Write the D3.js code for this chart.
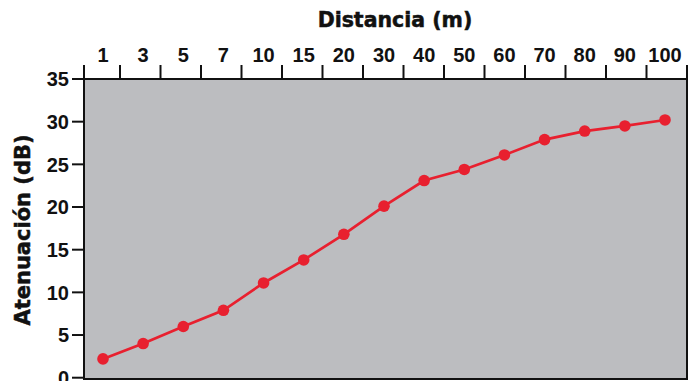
<!DOCTYPE html>
<html><head><meta charset="utf-8">
<script src="https://cdn.jsdelivr.net/npm/d3@7"></script>
<style>body{margin:0;background:#fff}svg{display:block}</style>
</head><body>
<svg id="c" width="693" height="381"></svg>
<script>
const categories = ["1","3","5","7","10","15","20","30","40","50","60","70","80","90","100"];
const values = [2.2, 4.0, 6.0, 7.9, 11.1, 13.8, 16.8, 20.1, 23.1, 24.4, 26.1, 27.9, 28.9, 29.5, 30.2];
const yTicks = [0, 5, 10, 15, 20, 25, 30, 35];
const xTitle = "Distancia (m)";
const yTitle = "Atenuación (dB)";

const svg = d3.select("#c");
const plot = {left: 84, right: 687, top: 79, bottom: 379};
const x = d3.scalePoint().domain(categories).range([103, 665]);
const xb = d3.scaleBand().domain(categories).range([79.5, 687]);
const y = d3.scaleLinear().domain([0, 35]).range([377.7, 79]);
const numFont = "'Liberation Sans Narrow', 'Liberation Sans', Arial, sans-serif";
const titleFont = "'DejaVu Sans', sans-serif";

svg.append("rect").attr("x", plot.left).attr("y", plot.top)
  .attr("width", plot.right - plot.left).attr("height", plot.bottom - plot.top)
  .attr("fill", "#bcbdc0").attr("stroke", "#111").attr("stroke-width", 2);

// top axis ticks (between categories)
svg.append("g").selectAll("line").data(categories).join("line")
  .attr("x1", d => xb(d) + xb.bandwidth()).attr("x2", d => xb(d) + xb.bandwidth())
  .attr("y1", 65).attr("y2", plot.top)
  .attr("stroke", "#111").attr("stroke-width", 2);
svg.append("line").attr("x1", plot.left).attr("x2", plot.left).attr("y1", 65).attr("y2", plot.top)
  .attr("stroke", "#111").attr("stroke-width", 2);

svg.append("g").selectAll("text").data(categories).join("text")
  .attr("x", d => x(d)).attr("y", 62).attr("text-anchor", "middle")
  .attr("font-family", numFont).attr("font-weight", "bold").attr("font-size", 20)
  .attr("fill", "#111").text(d => d);

// left axis
svg.append("g").selectAll("line").data(yTicks).join("line")
  .attr("x1", 72).attr("x2", plot.left).attr("y1", d => y(d)).attr("y2", d => y(d))
  .attr("stroke", "#111").attr("stroke-width", 2);
svg.append("g").selectAll("text").data(yTicks).join("text")
  .attr("x", 69).attr("y", d => y(d)).attr("dy", "0.36em").attr("text-anchor", "end")
  .attr("font-family", numFont).attr("font-weight", "bold").attr("font-size", 20)
  .attr("fill", "#111").text(d => d);

// titles
svg.append("text").attr("x", 395).attr("y", 27).attr("text-anchor", "middle")
  .attr("font-family", titleFont).attr("font-weight", "bold").attr("font-size", 20.5)
  .attr("fill", "#111").attr("stroke", "#111").attr("stroke-width", 0.5).text(xTitle);
svg.append("text").attr("transform", "translate(30,230) rotate(-90)").attr("text-anchor", "middle")
  .attr("font-family", titleFont).attr("font-weight", "bold").attr("font-size", 21)
  .attr("fill", "#111").attr("stroke", "#111").attr("stroke-width", 0.5).text(yTitle);

// series
const line = d3.line().x((d, i) => x(categories[i])).y(d => y(d));
svg.append("path").datum(values).attr("d", line)
  .attr("fill", "none").attr("stroke", "#e8202f").attr("stroke-width", 2.7);
svg.append("g").selectAll("circle").data(values).join("circle")
  .attr("cx", (d, i) => x(categories[i])).attr("cy", d => y(d)).attr("r", 5.8)
  .attr("fill", "#e8202f");
</script>
</body></html>
